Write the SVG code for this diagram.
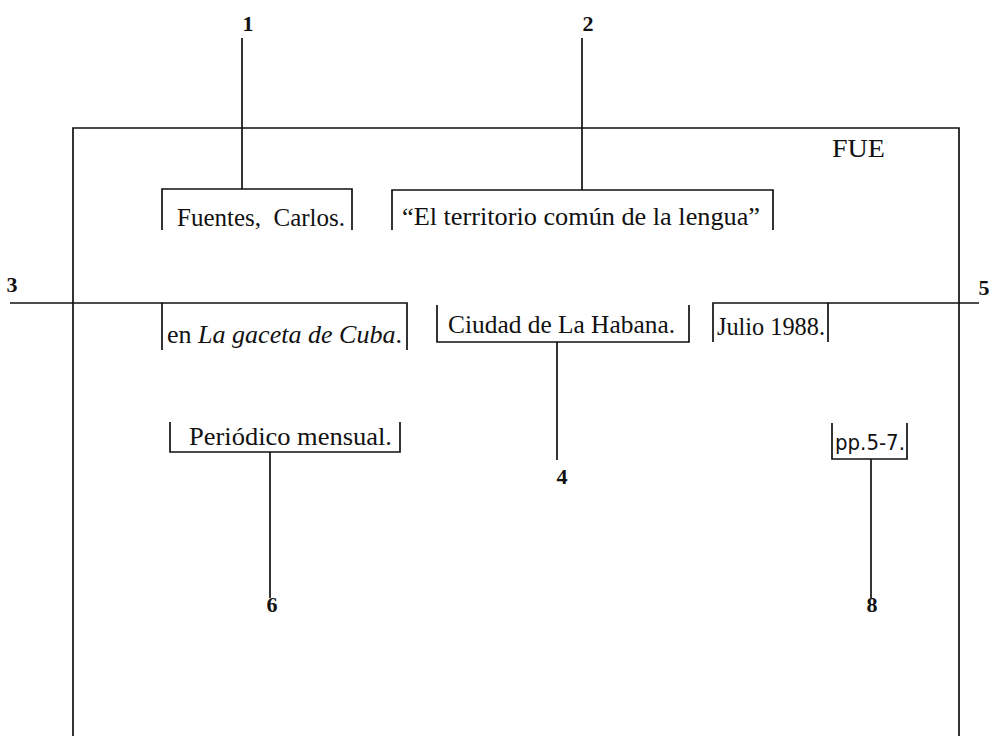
<svg xmlns="http://www.w3.org/2000/svg" width="991" height="736" viewBox="0 0 991 736">
<style>
  .ln { stroke: #111; stroke-width: 1.7; fill: none; }
  .t { font-family: "Liberation Serif", "Times New Roman", serif; font-size: 25px; fill: #111; }
  .num { font-family: "Liberation Serif", "Times New Roman", serif; font-size: 22px; font-weight: bold; fill: #111; text-anchor: middle; }
  .pp { font-family: "DejaVu Sans", "Liberation Sans", sans-serif; font-size: 21px; fill: #111; }
</style>
<rect width="991" height="736" fill="#fff"/>
<g id="card">
  <path class="ln" d="M73,736 V128 H959 V736"/>
  <text class="t" x="832" y="157" textLength="53" lengthAdjust="spacingAndGlyphs">FUE</text>
</g>
<g id="connectors">
  <line class="ln" x1="242" y1="38" x2="242" y2="189"/>
  <line class="ln" x1="582" y1="38" x2="582" y2="190"/>
  <line class="ln" x1="10" y1="303" x2="162" y2="303"/>
  <line class="ln" x1="828" y1="303" x2="979" y2="303"/>
  <line class="ln" x1="557" y1="342" x2="557" y2="460"/>
  <line class="ln" x1="270" y1="452" x2="270" y2="598"/>
  <line class="ln" x1="871" y1="459" x2="871" y2="598"/>
</g>
<g id="label-1"><text class="num" x="248" y="31">1</text></g>
<g id="label-2"><text class="num" x="588" y="31">2</text></g>
<g id="label-3"><text class="num" x="12" y="292">3</text></g>
<g id="label-4"><text class="num" x="562" y="484">4</text></g>
<g id="label-5"><text class="num" x="984" y="295">5</text></g>
<g id="label-6"><text class="num" x="272" y="612">6</text></g>
<g id="label-8"><text class="num" x="872" y="612">8</text></g>
<g id="node-author">
  <path class="ln" d="M162,230 V189 H352 V230"/>
  <text class="t" x="177" y="226" textLength="168" lengthAdjust="spacingAndGlyphs" xml:space="preserve">Fuentes,  Carlos.</text>
</g>
<g id="node-title">
  <path class="ln" d="M392,230 V190 H773 V230"/>
  <text class="t" x="402" y="225" textLength="358" lengthAdjust="spacingAndGlyphs">“El territorio común de la lengua”</text>
</g>
<g id="node-publication">
  <path class="ln" d="M162,350 V303 H407 V350"/>
  <text class="t" x="167" y="343" textLength="235" lengthAdjust="spacingAndGlyphs">en <tspan font-style="italic">La gaceta de Cuba</tspan>.</text>
</g>
<g id="node-place">
  <path class="ln" d="M437,305 V342 H689 V305"/>
  <text class="t" x="448" y="333" textLength="227" lengthAdjust="spacingAndGlyphs">Ciudad de La Habana.</text>
</g>
<g id="node-date">
  <path class="ln" d="M713,342 V303 H828 V342"/>
  <text class="t" x="717" y="335" textLength="108" lengthAdjust="spacingAndGlyphs">Julio 1988.</text>
</g>
<g id="node-periodicity">
  <path class="ln" d="M170,422 V452 H400 V422"/>
  <text class="t" x="189" y="445" textLength="203" lengthAdjust="spacingAndGlyphs">Periódico mensual.</text>
</g>
<g id="node-pages">
  <path class="ln" d="M832,423 V459 H907 V423"/>
  <text class="pp" x="835" y="450" textLength="70" lengthAdjust="spacingAndGlyphs">pp.5-7.</text>
</g>
</svg>
